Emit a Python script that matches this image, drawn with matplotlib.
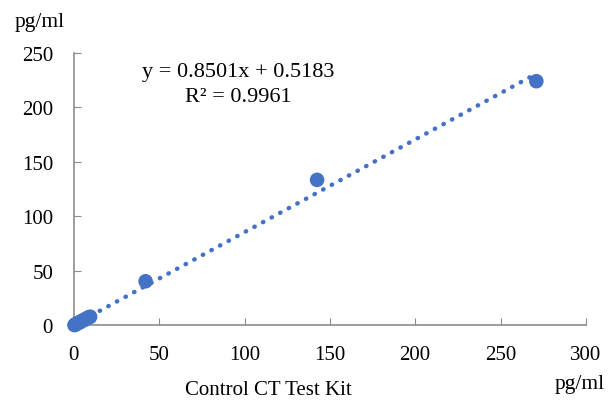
import numpy as np
import matplotlib
matplotlib.use("Agg")
import matplotlib.pyplot as plt

# measured pairs (control kit vs CT test kit), pg/ml
control = [0.3, 1.0, 1.5, 2.0, 3.0, 3.5, 4.0, 5.0, 6.0, 7.0, 8.0, 9.0, 9.5, 42.0, 142.5, 271.0]
ct_kit = [0.3, 1.0, 1.2, 2.0, 2.5, 3.0, 3.5, 4.5, 5.0, 6.0, 7.0, 7.5, 8.0, 40.5, 133.5, 224.0]
slope = 0.8501
intercept = 0.5183
r2 = 0.9961

xticks = [0, 50, 100, 150, 200, 250, 300]
yticks = [0, 50, 100, 150, 200, 250]

blue = "#4472C4"
grey = "#8c8c8c"
plt.rcParams['font.family'] = ['Liberation Serif', 'DejaVu Serif']

fig = plt.figure(figsize=(6.16, 4.02), dpi=100)
ax = fig.add_axes([0.120, 0.188, 0.831, 0.678])

# trendline
xt = np.array([0, max(control)])
ax.plot(xt, slope * xt + intercept, color=blue, lw=3.2, linestyle=(0, (0.1, 2.1)),
        dash_capstyle='round', zorder=2)
ax.scatter(control, ct_kit, s=110, color=blue, edgecolors='none', zorder=3, clip_on=False)

ax.set_xlim(0, 300)
ax.set_ylim(0, 250)
ax.set_xticks(xticks)
ax.set_yticks(yticks)
ax.tick_params(direction='in', length=5, color=grey, labelsize=15)
ax.tick_params(axis='x', pad=14)
ax.tick_params(axis='y', pad=15)
for s in ['top', 'right']:
    ax.spines[s].set_visible(False)
for s in ['left', 'bottom']:
    ax.spines[s].set_color(grey)
    ax.spines[s].set_linewidth(1.2)

ax.text(238 / 616, 1 - 72 / 402, "y = 0.8501x + 0.5183", transform=fig.transFigure,
        ha='center', va='center', fontsize=16)
ax.text(238 / 616, 1 - 97 / 402, "R² = %.4f" % r2, transform=fig.transFigure,
        ha='center', va='center', fontsize=16)

fig.text(40 / 616, 1 - 22 / 402, "pg/ml", ha='center', va='center', fontsize=15.5)
fig.text(580 / 616, 1 - 385 / 402, "pg/ml", ha='center', va='center', fontsize=15.5)
fig.text(268 / 616, 1 - 391 / 402, "Control CT Test Kit", ha='center', va='center', fontsize=15)

fig.savefig("out.png", dpi=100)
